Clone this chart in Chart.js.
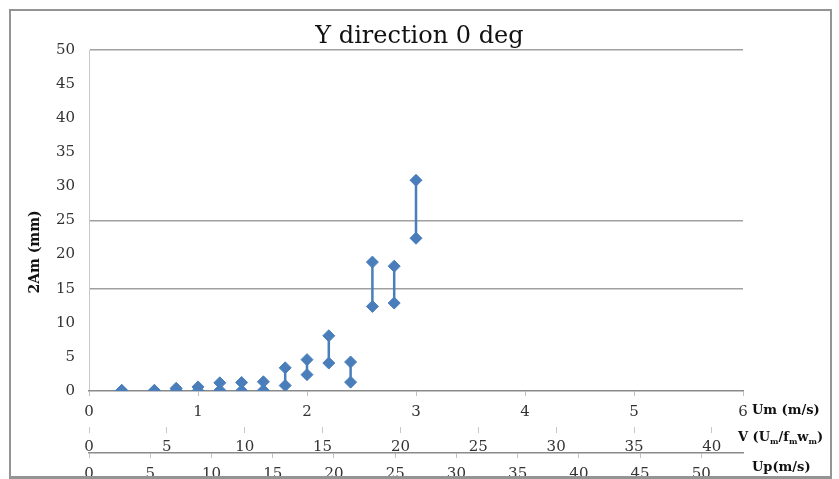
<!DOCTYPE html>
<html lang="en">
<head>
<meta charset="UTF-8">
<title>Y direction 0 deg</title>
<script src="https://cdn.jsdelivr.net/npm/chart.js"></script>
<style>
  body { margin: 0; background: #fff; }
  .wrap { position: relative; width: 839px; height: 479px; }
  .frame { position: absolute; left: 9px; top: 9px; width: 819px; height: 465px; border: 2px solid #949494; border-bottom-width: 3px; pointer-events: none; }
</style>
</head>
<body>
<div class="wrap">
  <canvas id="chart" width="839" height="479"></canvas>
  <div class="frame"></div>
</div>
<script>
  // Um (m/s) and the low / high 2Am (mm) for each run
  const um = [0.3, 0.6, 0.8, 1.0, 1.2, 1.4, 1.6, 1.8, 2.0, 2.2, 2.4, 2.6, 2.8, 3.0];
  const ampLow = [0.05, 0.05, 0.1, 0.05, 0.1, 0.05, 0.1, 0.8, 2.4, 4.1, 1.3, 12.4, 12.9, 22.4];
  const ampHigh = [0.1, 0.1, 0.4, 0.6, 1.2, 1.25, 1.35, 3.4, 4.6, 8.1, 4.25, 18.9, 18.3, 30.9];

  // axis ranges (the three x axes share the same length)
  const umMax = 6, vMax = 42, upMax = 53.4;
  const yMax = 50, yStep = 5;
  const yGridAt = [15, 25, 50];

  const blue = '#4a7ebb';
  const serif = 'DejaVu Serif';

  // low, high, gap, low, high, gap ...
  const points = [];
  um.forEach((u, i) => {
    points.push({ x: u, y: ampLow[i] });
    points.push({ x: u, y: ampHigh[i] });
    points.push({ x: u, y: null });
  });

  const tickFont = { family: serif, size: 15 };

  const axisTitles = {
    id: 'axisTitles',
    afterDraw(chart) {
      const ctx = chart.ctx;
      const { x, x2, x3 } = chart.scales;
      ctx.save();
      ctx.fillStyle = '#111';
      ctx.textBaseline = 'middle';
      ctx.font = 'bold 13px "' + serif + '"';
      ctx.fillText('Um (m/s)', 752, x.top + 20);
      ctx.fillText('Up(m/s)', 752, x3.top + 15);

      // V (Um/fmwm) with subscripts
      let px = 738;
      const py = x2.top + 11;
      const parts = [['V (U', 0], ['m', 1], ['/f', 0], ['m', 1], ['w', 0], ['m', 1], [')', 0]];
      parts.forEach(([t, sub]) => {
        ctx.font = sub ? 'bold 8px "' + serif + '"' : 'bold 13px "' + serif + '"';
        ctx.fillText(t, px, sub ? py + 4 : py);
        px += ctx.measureText(t).width;
      });

      ctx.translate(35, 252);
      ctx.rotate(-Math.PI / 2);
      ctx.textAlign = 'center';
      ctx.font = 'bold 14px "' + serif + '"';
      ctx.fillText('2Am (mm)', 0, 0);
      ctx.restore();
    }
  };

  new Chart(document.getElementById('chart').getContext('2d'), {
    type: 'scatter',
    data: {
      datasets: [{
        data: points,
        showLine: true,
        spanGaps: false,
        borderColor: blue,
        backgroundColor: blue,
        borderWidth: 2.5,
        pointStyle: 'rectRot',
        pointRadius: 6,
        pointBorderWidth: 1,
        pointBorderColor: blue,
        pointBackgroundColor: blue
      }]
    },
    options: {
      responsive: false,
      animation: false,
      layout: { padding: 0 },
      scales: {
        y: {
          min: 0, max: yMax,
          ticks: { stepSize: yStep, padding: 14, color: '#333', font: tickFont },
          grid: {
            drawTicks: false,
            lineWidth: 1.5,
            color: c => yGridAt.includes(c.tick.value) ? '#a0a0a0' : 'transparent'
          },
          border: { color: '#c8c8c8' },
          afterFit: s => { s.width = 89; }
        },
        // empty right-hand space where the axis titles sit
        yRight: {
          position: 'right',
          min: 0, max: 1,
          ticks: { display: false },
          grid: { display: false },
          border: { display: false },
          afterFit: s => { s.width = 96; }
        },
        x: {
          type: 'linear', position: 'bottom', weight: 0,
          min: 0, max: umMax,
          ticks: { stepSize: 1, padding: 7, color: '#333', font: tickFont, autoSkip: false },
          grid: { drawOnChartArea: false, tickLength: 5, color: '#c0c0c0' },
          border: { color: '#8a8a8a', width: 1.5 },
          afterFit: s => { s.height = 36; }
        },
        x2: {
          type: 'linear', position: 'bottom', weight: 1,
          min: 0, max: vMax,
          ticks: { stepSize: 5, includeBounds: false, padding: 5, color: '#333', font: tickFont, autoSkip: false },
          grid: { drawOnChartArea: false, tickLength: 6, color: '#c8c8c8' },
          border: { display: false },
          afterFit: s => { s.height = 26; }
        },
        x3: {
          type: 'linear', position: 'bottom', weight: 2,
          min: 0, max: upMax,
          ticks: { stepSize: 5, includeBounds: false, padding: 7, color: '#333', font: tickFont, autoSkip: false },
          grid: { drawOnChartArea: false, tickLength: 5, color: '#c0c0c0' },
          border: { color: '#8a8a8a', width: 1.5 },
          afterFit: s => { s.height = 26; }
        }
      },
      plugins: {
        legend: { display: false },
        tooltip: { enabled: false },
        title: {
          display: true,
          text: 'Y direction 0 deg',
          color: '#111',
          font: { family: serif, size: 24, weight: 'normal', lineHeight: 1 },
          padding: { top: 25, bottom: 1 }
        }
      }
    },
    plugins: [axisTitles]
  });
</script>
</body>
</html>
